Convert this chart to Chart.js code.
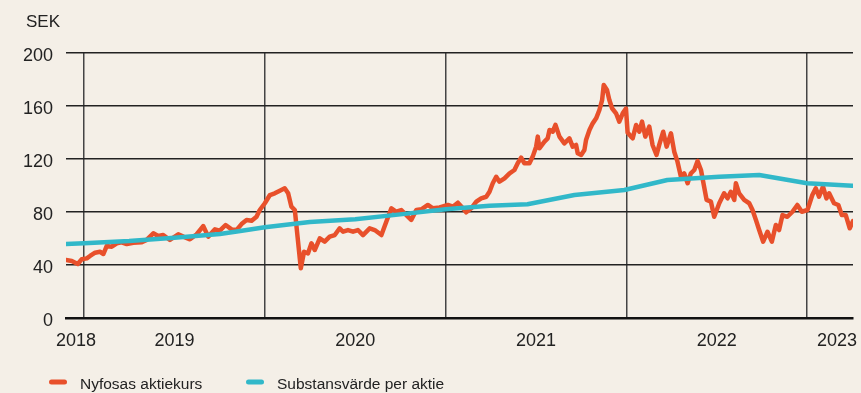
<!DOCTYPE html>
<html lang="sv">
<head>
<meta charset="utf-8">
<script src="https://cdn.jsdelivr.net/npm/chart.js@4.4.1/dist/chart.umd.min.js"></script>
<style>
	html, body { margin: 0; padding: 0; background: #f4efe7; }
	canvas { display: block; }
</style>
</head>
<body>
<canvas id="chart_kurs" width="861" height="393" style="width:861px;height:393px"></canvas>
<script>
/* ---------------------------- DATOS ---------------------------- */

// Aktiekurs (SEK), x = år i decimalform
const kursX = [2018.900, 2018.932, 2018.965, 2018.987, 2019.015, 2019.033, 2019.061, 2019.088, 2019.107, 2019.125,
	2019.153, 2019.181, 2019.208, 2019.236, 2019.272, 2019.319, 2019.346, 2019.383, 2019.410, 2019.438,
	2019.475, 2019.521, 2019.549, 2019.586, 2019.623, 2019.659, 2019.687, 2019.724, 2019.751, 2019.783,
	2019.816, 2019.844, 2019.871, 2019.899, 2019.927, 2019.954, 2019.972, 2020.000, 2020.028, 2020.055,
	2020.083, 2020.110, 2020.129, 2020.147, 2020.166, 2020.181, 2020.199, 2020.217, 2020.239, 2020.258,
	2020.276, 2020.304, 2020.331, 2020.359, 2020.387, 2020.414, 2020.433, 2020.460, 2020.488, 2020.515,
	2020.543, 2020.580, 2020.608, 2020.645, 2020.672, 2020.700, 2020.728, 2020.755, 2020.783, 2020.810,
	2020.838, 2020.866, 2020.902, 2020.930, 2020.967, 2021.013, 2021.040, 2021.068, 2021.096, 2021.114,
	2021.142, 2021.170, 2021.197, 2021.225, 2021.243, 2021.261, 2021.280, 2021.298, 2021.326, 2021.354,
	2021.381, 2021.399, 2021.418, 2021.436, 2021.464, 2021.482, 2021.501, 2021.510, 2021.519, 2021.547,
	2021.565, 2021.575, 2021.593, 2021.608, 2021.630, 2021.657, 2021.685, 2021.703, 2021.722, 2021.731,
	2021.750, 2021.768, 2021.777, 2021.796, 2021.814, 2021.833, 2021.851, 2021.866, 2021.875, 2021.893,
	2021.906, 2021.921, 2021.943, 2021.961, 2021.980, 2021.998, 2022.007, 2022.026, 2022.035, 2022.054,
	2022.072, 2022.087, 2022.105, 2022.127, 2022.145, 2022.167, 2022.182, 2022.204, 2022.223, 2022.247,
	2022.265, 2022.283, 2022.302, 2022.320, 2022.339, 2022.357, 2022.376, 2022.394, 2022.413, 2022.425,
	2022.444, 2022.468, 2022.486, 2022.514, 2022.541, 2022.560, 2022.578, 2022.597, 2022.606, 2022.624,
	2022.652, 2022.680, 2022.698, 2022.717, 2022.735, 2022.757, 2022.781, 2022.805, 2022.827, 2022.845,
	2022.864, 2022.891, 2022.919, 2022.946, 2022.971, 2023.002, 2023.029, 2023.048, 2023.066, 2023.088,
	2023.107, 2023.122, 2023.149, 2023.173, 2023.192, 2023.214, 2023.236, 2023.254];
const kursY = [43.8, 43.0, 40.8, 44.3, 45.0, 46.8, 49.3, 50.0, 48.3, 54.3,
	53.8, 56.4, 57.1, 55.8, 56.8, 57.1, 58.9, 63.9, 61.9, 62.6,
	58.9, 63.2, 61.4, 59.4, 63.2, 69.4, 61.4, 66.9, 65.9, 70.2,
	66.9, 66.4, 70.9, 74.0, 73.4, 76.4, 81.5, 86.6, 92.8, 94.1,
	96.1, 97.9, 94.1, 84.0, 81.5, 61.4, 37.5, 50.0, 48.8, 56.4,
	51.3, 60.1, 57.6, 61.4, 62.6, 67.7, 65.1, 66.4, 65.1, 66.4,
	62.6, 67.7, 66.4, 62.6, 72.7, 82.8, 80.2, 81.5, 77.7, 74.0,
	81.5, 82.0, 85.3, 82.8, 83.5, 85.3, 84.0, 87.0, 82.8, 79.8,
	82.8, 87.8, 90.3, 91.5, 95.3, 101.7, 106.6, 102.9, 105.4, 109.2,
	111.7, 116.8, 121.0, 116.8, 116.8, 121.8, 129.3, 136.9, 128.1, 133.1,
	135.6, 141.9, 140.6, 145.7, 136.9, 131.8, 135.6, 129.3, 130.6, 124.3,
	123.0, 126.8, 134.3, 141.9, 146.9, 150.7, 157.0, 164.5, 175.8, 172.1,
	164.5, 158.3, 154.5, 148.2, 154.5, 158.0, 140.0, 136.9, 135.6, 145.7,
	140.6, 148.2, 136.9, 144.4, 130.6, 123.0, 130.6, 140.6, 129.3, 139.4,
	125.5, 118.0, 106.6, 109.2, 101.7, 109.2, 111.7, 118.5, 111.7, 102.9,
	89.1, 87.8, 76.4, 86.6, 94.1, 90.3, 95.3, 89.1, 101.7, 94.1,
	89.1, 86.6, 81.5, 74.0, 66.4, 57.6, 65.1, 57.6, 70.2, 66.4,
	77.7, 76.4, 80.2, 85.3, 80.2, 81.5, 92.8, 97.9, 91.5, 99.1,
	90.3, 94.1, 86.6, 85.3, 77.7, 77.7, 67.7, 73.2];

// Substansvärde per aktie (SEK)
const substansX = [2018.900, 2019.000, 2019.249, 2019.500, 2019.751, 2019.873, 2020.000, 2020.249, 2020.500, 2020.749,
	2021.000, 2021.243, 2021.453, 2021.713, 2021.989, 2022.227, 2022.514, 2022.735, 2023.000, 2023.250];
const substansY = [55.8, 56.4, 58.1, 60.6, 63.4, 65.9, 68.5, 72.5, 74.5, 78.2,
	82.0, 84.8, 85.8, 92.8, 96.6, 104.2, 106.6, 107.9, 101.7, 99.8];

// Axlar
const yearLines = [2019, 2020, 2021, 2022, 2023];
const yearLabels = ["2018", "2019", "2020", "2021", "2022", "2023"];
const yearLabelPos = [2018.955, 2019.5, 2020.5, 2021.5, 2022.5, 2023.165];
const yTicks = [0, 40, 80, 120, 160, 200];

const labelKurs = "Nyfosas aktiekurs";
const labelSubstans = "Substansvärde per aktie";
const unitLabel = "SEK";

/* ---------------------------- GRAFICO ---------------------------- */

const FONT = '"Liberation Sans", Arial, sans-serif';
const TEXT = "#222222";

const kursData = kursX.map((x, i) => ({ x: x, y: kursY[i] }));
const substansData = substansX.map((x, i) => ({ x: x, y: substansY[i] }));

// SEK uppe till vänster + egen legend längst ner
const extrasPlugin = {
	id: "extras",
	afterDraw(chart) {
		const c = chart.ctx;
		c.save();
		c.fillStyle = TEXT;
		c.font = "17px " + FONT;
		c.textBaseline = "alphabetic";
		c.fillText(unitLabel, 26, 27);

		const legendX = [49, 246];
		c.font = "15.5px " + FONT;
		chart.data.datasets.forEach((ds, i) => {
			const x = legendX[i];
			c.strokeStyle = ds.borderColor;
			c.lineWidth = 5;
			c.lineCap = "round";
			c.beginPath();
			c.moveTo(x + 2.5, 382);
			c.lineTo(x + 15.5, 382);
			c.stroke();
			c.fillStyle = TEXT;
			c.fillText(ds.label, x + 31, 389);
		});
		c.restore();
	},
};

const ctx = document.getElementById("chart_kurs").getContext("2d");

let chart_kurs = new Chart(ctx, {
	type: "line",
	data: {
		datasets: [
			{
				label: labelKurs,
				data: kursData,
				borderColor: "#e8502b",
				borderWidth: 4.5,
				borderJoinStyle: "round",
				borderCapStyle: "round",
				pointRadius: 0,
				tension: 0,
				order: 1,
			},
			{
				label: labelSubstans,
				data: substansData,
				borderColor: "#31b8c9",
				borderWidth: 4.5,
				borderJoinStyle: "round",
				borderCapStyle: "round",
				pointRadius: 0,
				tension: 0,
				order: 0,
			},
		],
	},
	options: {
		responsive: false,
		animation: false,
		layout: { padding: { top: 53, right: 8, left: 0, bottom: 0 } },
		plugins: {
			legend: { display: false },
			tooltip: { enabled: false },
		},
		scales: {
			x: {
				type: "linear",
				min: 2018.9,
				max: 2023.254,
				afterBuildTicks: (scale) => {
					scale.ticks = yearLines.concat(yearLabelPos)
						.sort((a, b) => a - b)
						.map((v) => ({ value: v }));
				},
				afterFit: (scale) => {
					// fast höjd, och ingen extra marginal för sista etiketten
					scale.height = 75;
					scale.paddingLeft = 0;
					scale.paddingRight = 0;
				},
				grid: {
					drawTicks: false,
					lineWidth: 1.5,
					color: (c) => (yearLines.includes(c.tick && c.tick.value) ? "#444444" : "rgba(0,0,0,0)"),
				},
				border: { display: true, color: "#111111", width: 2.5 },
				ticks: {
					autoSkip: false,
					maxRotation: 0,
					padding: 12,
					color: TEXT,
					font: { family: FONT, size: 18 },
					callback: (value) => {
						const i = yearLabelPos.indexOf(value);
						return i >= 0 ? yearLabels[i] : "";
					},
				},
			},
			y: {
				min: 0,
				max: 200,
				afterBuildTicks: (scale) => {
					scale.ticks = yTicks.map((v) => ({ value: v }));
				},
				afterFit: (scale) => {
					scale.width = 66;
					scale.paddingTop = 0;
					scale.paddingBottom = 0;
				},
				grid: {
					drawTicks: false,
					lineWidth: 1.5,
					color: (c) => (c.tick && c.tick.value === 0 ? "rgba(0,0,0,0)" : "#222222"),
				},
				border: { display: false },
				ticks: {
					padding: 13,
					labelOffset: 3,
					color: TEXT,
					font: { family: FONT, size: 18 },
				},
			},
		},
	},
	plugins: [extrasPlugin],
});
</script>
</body>
</html>
